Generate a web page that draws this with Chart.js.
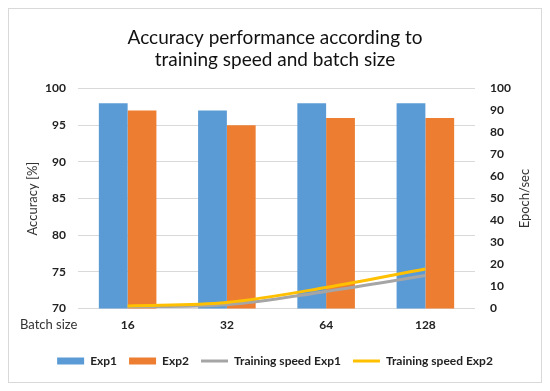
<!DOCTYPE html>
<html><head><meta charset="utf-8">
<script src="https://cdn.jsdelivr.net/npm/chart.js@4.4.0/dist/chart.umd.min.js"></script>
<style>html,body{margin:0;padding:0;background:#fff}</style>
</head><body>
<canvas id="c" width="550" height="391"></canvas>
<script>
const categories = ['16', '32', '64', '128'];
const exp1 = [98, 97, 98, 98];
const exp2 = [97, 95, 96, 96];
const speedExp1 = [0.8, 1.8, 7.8, 15];
const speedExp2 = [1.2, 2.8, 9.6, 18];
const titleLines = ['Accuracy performance according to', 'training speed and batch size'];
const leftTitle = 'Accuracy [%]';
const rightTitle = 'Epoch/sec';
const xTitle = 'Batch size';

const FONT = 'Lato, "Open Sans", sans-serif';

const framePlugin = {
  id: 'frame',
  beforeDraw(chart) {
    const ctx = chart.ctx;
    ctx.save();
    ctx.fillStyle = '#fff';
    ctx.fillRect(0, 0, chart.width, chart.height);
    ctx.strokeStyle = '#d9d9d9';
    ctx.lineWidth = 1;
    ctx.strokeRect(8.5, 8.5, 533, 374);
    ctx.restore();
  },
  afterDraw(chart) {
    const ctx = chart.ctx;
    const x = chart.scales.x;
    const y = chart.scales.y;
    const cy = (y.top + y.bottom) / 2;
    ctx.save();
    ctx.font = '13px ' + FONT;
    ctx.fillStyle = '#333';
    ctx.textBaseline = 'middle';
    ctx.textAlign = 'left';
    ctx.fillText(xTitle, 20, x.top + 16);
    ctx.textAlign = 'center';
    ctx.save();
    ctx.translate(33, cy);
    ctx.rotate(-Math.PI / 2);
    ctx.fillText(leftTitle, 0, 0);
    ctx.restore();
    ctx.save();
    ctx.translate(525, cy);
    ctx.rotate(-Math.PI / 2);
    ctx.fillText(rightTitle, 0, 0);
    ctx.restore();
    ctx.restore();
  }
};

new Chart(document.getElementById('c'), {
  data: {
    labels: categories,
    datasets: [
      { type: 'bar', label: 'Exp1', data: exp1, yAxisID: 'y', backgroundColor: '#5B9BD5', pointStyle: 'rect', barPercentage: 1, categoryPercentage: 0.58, order: 2 },
      { type: 'bar', label: 'Exp2', data: exp2, yAxisID: 'y', backgroundColor: '#ED7D31', pointStyle: 'rect', barPercentage: 1, categoryPercentage: 0.58, order: 3 },
      { type: 'line', label: 'Training speed Exp1', data: speedExp1, yAxisID: 'y1', borderColor: '#A5A5A5', backgroundColor: '#A5A5A5', borderWidth: 3, pointRadius: 0, pointStyle: 'line', cubicInterpolationMode: 'monotone', order: 1 },
      { type: 'line', label: 'Training speed Exp2', data: speedExp2, yAxisID: 'y1', borderColor: '#FFC000', backgroundColor: '#FFC000', borderWidth: 3, pointRadius: 0, pointStyle: 'line', cubicInterpolationMode: 'monotone', order: 0 }
    ]
  },
  options: {
    responsive: false,
    animation: false,
    layout: { padding: { top: 0, bottom: 14, left: 0, right: 0 } },
    plugins: {
      title: { display: true, text: titleLines, color: '#111', font: { family: FONT, size: 19, weight: 'normal' }, padding: { top: 26, bottom: 17 }, lineHeight: 1.15 },
      tooltip: { enabled: false },
      legend: {
        position: 'bottom',
        labels: {
          usePointStyle: true, pointStyleWidth: 27, boxHeight: 7, padding: 12,
          color: '#222', font: { family: FONT, size: 12, weight: 'bold' },
          sort: (a, b) => {
            const order = ['Exp1', 'Exp2', 'Training speed Exp1', 'Training speed Exp2'];
            return order.indexOf(a.text) - order.indexOf(b.text);
          }
        }
      }
    },
    scales: {
      x: {
        grid: { display: false }, border: { display: false },
        ticks: { color: '#222', font: { family: FONT, size: 12, weight: 'bold' }, padding: 1 },
        afterFit(s) { s.height += 10; }
      },
      y: {
        position: 'left', min: 70, max: 100,
        ticks: { stepSize: 5, color: '#222', font: { family: FONT, size: 12, weight: 'bold' }, padding: 12 },
        grid: { color: '#d9d9d9', drawTicks: false }, border: { display: false },
        afterFit(s) { s.width = 78; }
      },
      y1: {
        position: 'right', min: 0, max: 100,
        ticks: { stepSize: 10, color: '#222', font: { family: FONT, size: 12, weight: 'bold' }, padding: 15 },
        grid: { display: false, drawTicks: false }, border: { display: false },
        afterFit(s) { s.width = 75; }
      }
    }
  },
  plugins: [framePlugin]
});
</script>
</body></html>
